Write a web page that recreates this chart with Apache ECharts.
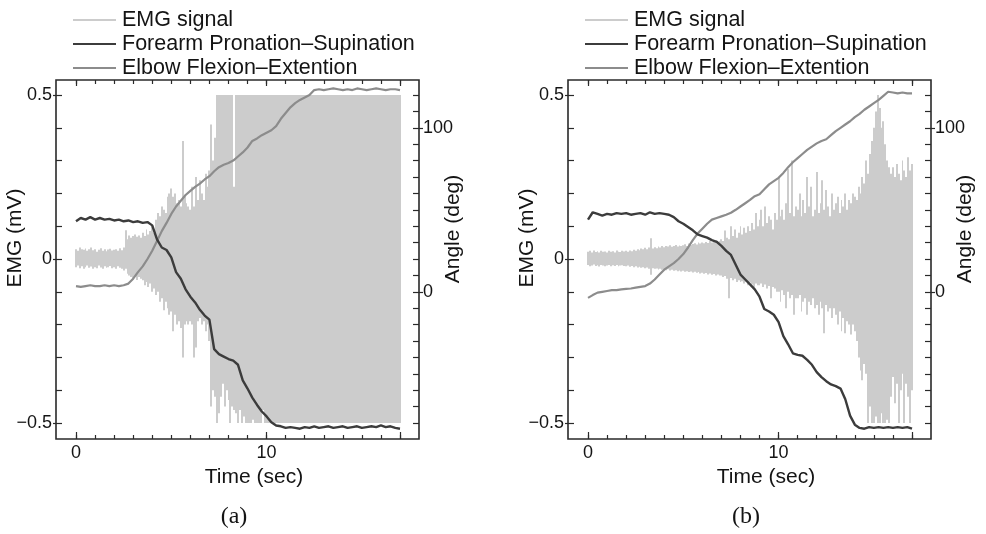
<!DOCTYPE html>
<html>
<head>
<meta charset="utf-8">
<script src="https://cdn.jsdelivr.net/npm/echarts@6/dist/echarts.min.js"></script>
<style>
  html, body { margin: 0; padding: 0; background: #fff; }
  #chart { width: 986px; height: 534px; }
</style>
</head>
<body>
<div id="chart"></div>
<script>
// sampling steps (sec) of the hand-read traces
const EMG_STEP = 0.1
const ANGLE_STEP = 0.25

const legendNames = ['EMG signal', 'Forearm Pronation–Supination', 'Elbow Flexion–Extention']
const timeTicks = [0, 10, 17]
const timeLabels = [0, 10]
const emgLabels = [-0.5, 0, 0.5]
const angleLabels = [0, 100]

// (a) EMG envelope, one value every 0.1 s (mV)
const emgHiA = [
  0.03, 0.025, 0.035, 0.03, 0.028, 0.032, 0.025, 0.03, 0.035, 0.027,
  0.03, 0.022, 0.028, 0.033, 0.025, 0.03, 0.024, 0.029, 0.031, 0.026,
  0.028, 0.03, 0.025, 0.033, 0.027, 0.035, 0.088, 0.06, 0.072, 0.065,
  0.07, 0.075, 0.068, 0.072, 0.065, 0.08, 0.07, 0.09, 0.075, 0.085,
  0.1, 0.08, 0.12, 0.14, 0.13, 0.16, 0.15, 0.14, 0.19, 0.2,
  0.215, 0.19, 0.2, 0.17, 0.18, 0.16, 0.36, 0.19, 0.17, 0.16,
  0.15, 0.22, 0.16, 0.25, 0.18, 0.24, 0.2, 0.18, 0.26, 0.22,
  0.27, 0.41, 0.3, 0.37, 0.5, 0.5, 0.5, 0.5, 0.5, 0.5,
  0.5, 0.5, 0.5, 0.22, 0.5, 0.5, 0.5, 0.5, 0.5, 0.5,
  0.5, 0.5, 0.5, 0.5, 0.5, 0.5, 0.5, 0.5, 0.5, 0.5,
  0.5, 0.5, 0.5, 0.5, 0.5, 0.5, 0.5, 0.5, 0.5, 0.5,
  0.5, 0.5, 0.5, 0.5, 0.5, 0.5, 0.5, 0.5, 0.5, 0.5,
  0.5, 0.5, 0.5, 0.5, 0.5, 0.5, 0.5, 0.5, 0.5, 0.5,
  0.5, 0.5, 0.5, 0.5, 0.5, 0.5, 0.5, 0.5, 0.5, 0.5,
  0.5, 0.5, 0.5, 0.5, 0.5, 0.5, 0.5, 0.5, 0.5, 0.5,
  0.5, 0.5, 0.5, 0.5, 0.5, 0.5, 0.5, 0.5, 0.5, 0.5,
  0.5, 0.5, 0.5, 0.5, 0.5, 0.5, 0.5, 0.5, 0.5, 0.5,
  0.5
]
const emgLoA = [
  -0.025, -0.02, -0.028, -0.022, -0.03, -0.025, -0.02, -0.027, -0.023, -0.03,
  -0.025, -0.028, -0.02, -0.026, -0.03, -0.022, -0.027, -0.025, -0.021, -0.028,
  -0.025, -0.03, -0.022, -0.027, -0.03, -0.035, -0.03, -0.045, -0.05, -0.055,
  -0.06, -0.05, -0.064, -0.055, -0.06, -0.065, -0.08, -0.07, -0.085, -0.075,
  -0.1, -0.09, -0.11, -0.1, -0.13, -0.12, -0.156, -0.13, -0.15, -0.17,
  -0.16, -0.22, -0.17, -0.2, -0.19, -0.21, -0.3, -0.2, -0.19, -0.2,
  -0.19, -0.2, -0.3, -0.27, -0.19, -0.18, -0.2, -0.19, -0.22, -0.2,
  -0.25, -0.45, -0.4, -0.42, -0.5, -0.47, -0.42, -0.38, -0.45, -0.4,
  -0.43, -0.5, -0.45, -0.46, -0.47, -0.5, -0.46, -0.5, -0.48, -0.5,
  -0.5, -0.5, -0.5, -0.49, -0.5, -0.5, -0.5, -0.5, -0.46, -0.5,
  -0.5, -0.5, -0.5, -0.5, -0.5, -0.5, -0.5, -0.5, -0.5, -0.5,
  -0.5, -0.5, -0.5, -0.5, -0.5, -0.5, -0.5, -0.5, -0.5, -0.5,
  -0.5, -0.5, -0.5, -0.5, -0.5, -0.5, -0.5, -0.5, -0.5, -0.5,
  -0.5, -0.5, -0.5, -0.5, -0.5, -0.5, -0.5, -0.5, -0.5, -0.5,
  -0.5, -0.5, -0.5, -0.5, -0.5, -0.5, -0.5, -0.5, -0.5, -0.5,
  -0.5, -0.5, -0.5, -0.5, -0.5, -0.5, -0.5, -0.5, -0.5, -0.5,
  -0.5, -0.5, -0.5, -0.5, -0.5, -0.5, -0.5, -0.5, -0.5, -0.5,
  -0.5
]

// (a) joint angles, one value every 0.25 s (deg)
const forearmA = [
  43, 45, 44, 45.5, 44, 45, 44, 44.5, 43.5, 44, 43, 43.5, 42.5, 43, 42, 42.5,
  40.5, 32, 27, 25.5, 21, 12, 8, 1.5, -3, -6.5, -11, -14.5, -17, -35, -38, -39.5,
  -41, -42, -44.5, -54, -59, -64.5, -69, -73, -76, -79.5, -81.5, -82, -83, -82.5, -83, -83.5,
  -82.5, -83, -82, -83, -82.5, -82, -83, -82.5, -82, -83, -82.5, -82, -83, -82.5, -82, -82.5,
  -81.5, -82.5, -82, -83, -83.5
]
const elbowA = [
  3.5, 3, 3.5, 4, 3.5, 3.5, 4, 3.5, 4, 3.5, 4, 5, 8, 12, 15.5, 20,
  25, 31, 37, 42, 47.5, 52, 55.5, 59, 61.5, 64, 66, 68.5, 70.5, 73.5, 76, 77.5,
  78.5, 80, 82.5, 85, 88, 92, 93.5, 95.5, 97, 98.5, 101, 105.5, 109, 112.5, 115, 117,
  118.5, 120, 123, 123.5, 123, 123.5, 124, 123.5, 123, 123.5, 123, 124, 123.5, 123, 123.5, 124,
  123.5, 123, 123.5, 123.5, 123
]

// (b) EMG envelope, one value every 0.1 s (mV)
const emgHiB = [
  0.022, 0.025, 0.02, 0.026, 0.021, 0.024, 0.02, 0.025, 0.022, 0.023,
  0.02, 0.025, 0.022, 0.024, 0.02, 0.026, 0.022, 0.021, 0.025, 0.023,
  0.025, 0.022, 0.026, 0.024, 0.028, 0.025, 0.03, 0.027, 0.032, 0.03,
  0.034, 0.03, 0.035, 0.063, 0.032, 0.036, 0.033, 0.038, 0.035, 0.04,
  0.036, 0.04, 0.038, 0.042, 0.037, 0.04, 0.043, 0.038, 0.041, 0.04,
  0.042, 0.045, 0.04, 0.047, 0.043, 0.046, 0.048, 0.044, 0.05, 0.047,
  0.05, 0.048, 0.052, 0.049, 0.055, 0.05, 0.053, 0.058, 0.052, 0.055,
  0.06, 0.055, 0.087, 0.065, 0.06, 0.1, 0.07, 0.09, 0.065, 0.08,
  0.1, 0.075, 0.095, 0.08, 0.1, 0.085, 0.11, 0.09, 0.14, 0.1,
  0.12, 0.15, 0.1, 0.16, 0.11, 0.13, 0.12, 0.09, 0.14, 0.12,
  0.247, 0.13, 0.15, 0.12, 0.17, 0.275, 0.14, 0.3, 0.13, 0.16,
  0.15, 0.2, 0.13, 0.18, 0.14, 0.25, 0.16, 0.22, 0.13, 0.15,
  0.265, 0.14, 0.17, 0.24, 0.15, 0.21, 0.16, 0.13, 0.2, 0.15,
  0.17, 0.19, 0.14, 0.18, 0.16, 0.2, 0.15, 0.18, 0.17, 0.2,
  0.19, 0.18, 0.22, 0.2, 0.25, 0.23, 0.3, 0.26, 0.32, 0.36,
  0.4, 0.45, 0.5, 0.46, 0.4, 0.42, 0.35, 0.3, 0.28, 0.26,
  0.28, 0.25, 0.29, 0.26, 0.24, 0.3, 0.27, 0.25, 0.31, 0.27,
  0.29
]
const emgLoB = [
  -0.018, -0.022, -0.02, -0.017, -0.021, -0.019, -0.023, -0.018, -0.02, -0.022,
  -0.02, -0.018, -0.022, -0.019, -0.021, -0.018, -0.022, -0.02, -0.019, -0.021,
  -0.022, -0.02, -0.024, -0.021, -0.025, -0.022, -0.026, -0.024, -0.027, -0.025,
  -0.028, -0.026, -0.03, -0.048, -0.028, -0.03, -0.029, -0.032, -0.03, -0.033,
  -0.032, -0.034, -0.031, -0.035, -0.033, -0.036, -0.034, -0.037, -0.035, -0.038,
  -0.036, -0.039, -0.037, -0.04, -0.038, -0.041, -0.039, -0.042, -0.04, -0.044,
  -0.042, -0.045, -0.043, -0.047, -0.044, -0.048, -0.046, -0.05, -0.047, -0.05,
  -0.05, -0.055, -0.052, -0.06, -0.12, -0.058, -0.065, -0.06, -0.07, -0.065,
  -0.07, -0.068, -0.075, -0.07, -0.08, -0.072, -0.078, -0.085, -0.075, -0.08,
  -0.08, -0.075, -0.085, -0.078, -0.09, -0.082, -0.12, -0.085, -0.09, -0.1,
  -0.1, -0.13, -0.095, -0.11, -0.15, -0.1, -0.12, -0.11, -0.17, -0.12,
  -0.12, -0.11, -0.16, -0.13, -0.12, -0.17, -0.13, -0.14, -0.12, -0.15,
  -0.14, -0.17, -0.13, -0.15, -0.226, -0.14, -0.16, -0.15, -0.18, -0.15,
  -0.17, -0.2, -0.16, -0.22, -0.18, -0.226, -0.19, -0.2, -0.23, -0.2,
  -0.22, -0.25, -0.3, -0.34, -0.37, -0.32, -0.35, -0.5, -0.45, -0.5,
  -0.5, -0.48, -0.5, -0.5, -0.47, -0.5, -0.5, -0.49, -0.5, -0.42,
  -0.36, -0.44, -0.38, -0.5, -0.4, -0.35, -0.5, -0.38, -0.42, -0.5,
  -0.4
]

// (b) joint angles, one value every 0.25 s (deg)
const forearmB = [
  44, 48.5, 47.5, 46.5, 47.5, 47, 48, 47.5, 48, 47, 47.5, 48, 47, 48.5, 47.5, 48,
  47.5, 47, 45.5, 43, 41.5, 39.5, 37.5, 35, 34, 33, 31.5, 30.5, 28, 25, 22.5, 16.5,
  10.5, 7.5, 4.5, 1.5, -3, -10.5, -12, -14, -18.5, -27, -32, -37.5, -38.5, -39, -41.5, -44.5,
  -49, -52, -54.5, -56.5, -57.5, -59, -65.5, -75.5, -81, -83, -83.5, -82.5, -83, -82.5, -83, -82.5,
  -83, -82.5, -83, -82.5, -83.5
]
const elbowB = [
  -3.7, -2, -0.5, 0, 0.5, 1, 1, 1.5, 1.8, 2, 2.5, 3, 3.5, 5, 7.5, 10.5,
  13.5, 15.5, 17.5, 20, 23, 27, 31.5, 35.5, 38.5, 41.5, 44, 45, 46, 47, 48.2, 50,
  52, 54, 56, 58.3, 59.5, 62.5, 65.5, 67.5, 69.5, 72.5, 76, 79, 81.5, 84, 86.5, 88.5,
  90.5, 92, 93, 95.5, 98, 100, 102, 104, 106.5, 108.5, 111, 113, 115, 117, 119.5, 122,
  121.5, 121, 121.5, 121, 121
]

const FONT = "'Liberation Sans', Arial, sans-serif"
const TEXT_COLOR = '#141414'
const AXIS_COLOR = '#2a2a2a'
const EMG_COLOR = '#cccccc'
const FOREARM_COLOR = '#3c3c3c'
const ELBOW_COLOR = '#8c8c8c'

const option = {
    animation: false,
    backgroundColor: '#fff',
    grid: [],
    xAxis: [],
    yAxis: [],
    legend: [],
    graphic: [],
    series: []
}

const toPairs = (values, step) => values.map((v, i) => [+(i * step).toFixed(2), v])
const toRanges = (lo, hi) => lo.map((v, i) => [+(i * EMG_STEP).toFixed(2), v, hi[i]])

const tickLine = { color: AXIS_COLOR, width: 1.2 }
const labelFont = { fontFamily: FONT, fontSize: 18, color: TEXT_COLOR }
const nameFont = { fontFamily: FONT, fontSize: 21, color: TEXT_COLOR }
const noLine = { show: false, onZero: false }

// one gray bar per 0.1 s bin, snapped to whole pixels so the bins close up
function renderEmg(params, api) {
    const t = api.value(0)
    const top = api.coord([t - EMG_STEP / 2, api.value(2)])
    const bottom = api.coord([t + EMG_STEP / 2, api.value(1)])
    const x0 = Math.round(top[0])
    const x1 = Math.round(bottom[0])
    return {
        type: 'rect',
        shape: { x: x0, y: top[1], width: Math.max(1, x1 - x0), height: bottom[1] - top[1] },
        style: { fill: EMG_COLOR }
    }
}

function addPanel(shift, caption, emgLo, emgHi, forearm, elbow) {
    const g = option.grid.length
    // outer frame
    option.grid.push({ left: 56 + shift, top: 80, width: 363, height: 359, show: true,
        borderColor: AXIS_COLOR, borderWidth: 1.6, backgroundColor: 'transparent',
        outerBoundsMode: 'none' })
    // plotting area: spans the outer ticks (0..17 s, -0.5..0.5 mV)
    option.grid.push({ left: 76 + shift, top: 95, width: 324, height: 328, outerBoundsMode: 'none' })

    const x0 = option.xAxis.length
    const y0 = option.yAxis.length
    option.xAxis.push({ gridIndex: g, show: false, min: 0, max: 1 })
    option.yAxis.push({ gridIndex: g, show: false, min: 0, max: 1 })

    const timeBase = { gridIndex: g + 1, type: 'value', min: 0, max: 17,
        axisLine: noLine, splitLine: { show: false } }
    // bottom minor / major, top minor / major
    option.xAxis.push({ ...timeBase, position: 'bottom', offset: 16, interval: 1,
        axisTick: { inside: true, length: 4, lineStyle: tickLine }, axisLabel: { show: false } })
    option.xAxis.push({ ...timeBase, position: 'bottom', offset: 16,
        axisTick: { inside: true, length: 7, customValues: timeTicks, lineStyle: tickLine },
        axisLabel: { ...labelFont, margin: 5, customValues: timeLabels },
        name: 'Time (sec)', nameLocation: 'middle', nameGap: 28, nameMoveOverlap: false,
        nameTextStyle: { ...nameFont, padding: [0, 0, 0, 32] } })
    option.xAxis.push({ ...timeBase, position: 'top', offset: 15, interval: 1,
        axisTick: { inside: true, length: 4, lineStyle: tickLine }, axisLabel: { show: false } })
    option.xAxis.push({ ...timeBase, position: 'top', offset: 15,
        axisTick: { inside: true, length: 6, customValues: timeTicks, lineStyle: tickLine },
        axisLabel: { show: false } })

    const emgBase = { gridIndex: g + 1, type: 'value', min: -0.5, max: 0.5, position: 'left', offset: 20,
        axisLine: noLine, splitLine: { show: false } }
    option.yAxis.push({ ...emgBase, interval: 0.1,
        axisTick: { inside: true, length: 6, lineStyle: tickLine }, axisLabel: { show: false } })
    option.yAxis.push({ ...emgBase,
        axisTick: { inside: false, length: 3, customValues: emgLabels, lineStyle: tickLine },
        axisLabel: { ...labelFont, margin: 4, customValues: emgLabels,
            formatter: v => (v < 0 ? '\u2212' + Math.abs(v) : String(v)) },
        name: 'EMG (mV)', nameLocation: 'middle', nameGap: 30, nameMoveOverlap: false,
        nameTextStyle: { ...nameFont, padding: [0, 0, 0, 42] } })

    const angleBase = { gridIndex: g + 1, type: 'value', min: -80, max: 120, position: 'right', offset: 19,
        axisLine: noLine, splitLine: { show: false } }
    option.yAxis.push({ ...angleBase, interval: 10,
        axisTick: { inside: true, length: 6, lineStyle: tickLine }, axisLabel: { show: false } })
    option.yAxis.push({ ...angleBase,
        axisTick: { inside: false, length: 4, customValues: angleLabels, lineStyle: tickLine },
        axisLabel: { ...labelFont, margin: 4, customValues: angleLabels },
        name: 'Angle (deg)', nameLocation: 'middle', nameGap: 24, nameRotate: 90, nameMoveOverlap: false,
        nameTextStyle: { ...nameFont, padding: [0, 0, 0, 60] } })

    const xData = x0 + 1
    option.series.push({
        name: legendNames[0], type: 'custom', xAxisIndex: xData, yAxisIndex: y0 + 1,
        renderItem: renderEmg, itemStyle: { color: EMG_COLOR },
        encode: { x: 0, y: [1, 2] }, data: toRanges(emgLo, emgHi), z: 1
    })
    option.series.push({
        name: legendNames[2], type: 'line', xAxisIndex: xData, yAxisIndex: y0 + 3,
        showSymbol: false, symbol: 'none', clip: false, color: ELBOW_COLOR,
        lineStyle: { width: 2.2, color: ELBOW_COLOR }, data: toPairs(elbow, ANGLE_STEP), z: 3
    })
    option.series.push({
        name: legendNames[1], type: 'line', xAxisIndex: xData, yAxisIndex: y0 + 3,
        showSymbol: false, symbol: 'none', clip: false, color: FOREARM_COLOR,
        lineStyle: { width: 2.4, color: FOREARM_COLOR }, data: toPairs(forearm, ANGLE_STEP), z: 4
    })

    option.legend.push({
        left: 68 + shift, top: 3, orient: 'vertical', selectedMode: false,
        icon: 'rect', itemWidth: 43, itemHeight: 2, itemGap: 0,
        textStyle: { fontFamily: FONT, fontSize: 21.5, color: TEXT_COLOR, lineHeight: 24, padding: [0, 0, 0, 1] },
        data: legendNames
    })

    option.graphic.push({
        type: 'text', x: 234 + shift, y: 517,
        style: { text: caption, align: 'center', verticalAlign: 'middle',
            font: "24px 'Liberation Serif', 'Times New Roman', serif", fill: TEXT_COLOR }
    })
}

addPanel(0, '(a)', emgLoA, emgHiA, forearmA, elbowA)
addPanel(512, '(b)', emgLoB, emgHiB, forearmB, elbowB)

const chart = echarts.init(document.getElementById('chart'), null, { renderer: 'canvas' })
chart.setOption(option)
</script>
</body>
</html>
